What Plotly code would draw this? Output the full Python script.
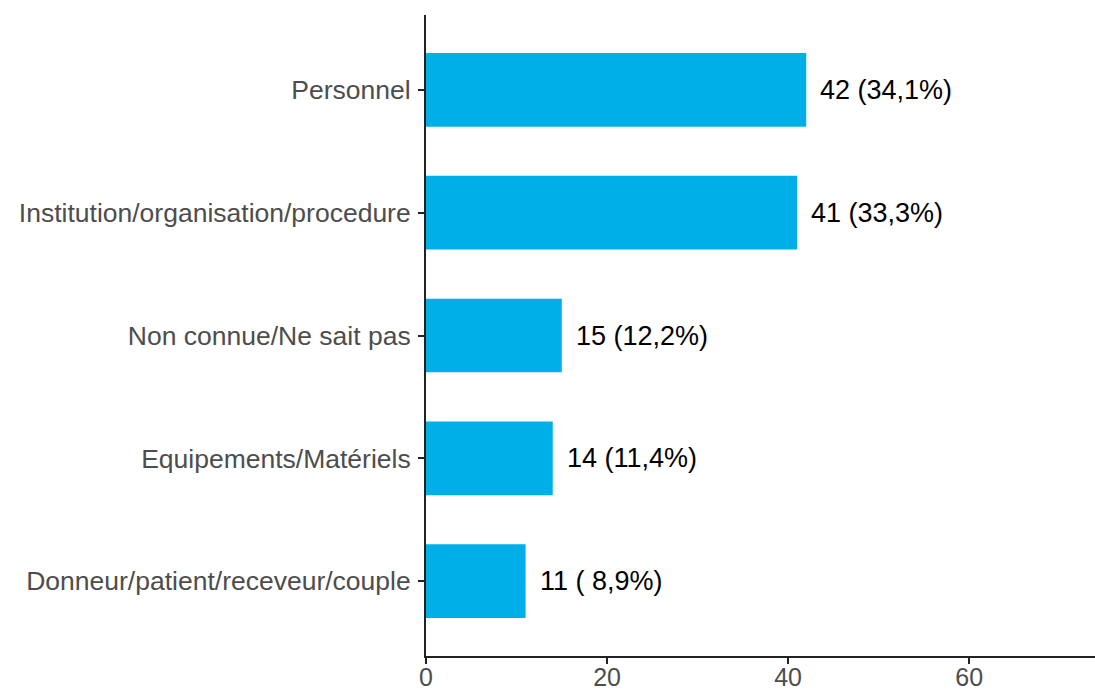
import plotly.graph_objects as go

categories = ["Personnel", "Institution/organisation/procedure", "Non connue/Ne sait pas",
              "Equipements/Matériels", "Donneur/patient/receveur/couple"]
counts = [42, 41, 15, 14, 11]
labels = ["42 (34,1%)", "41 (33,3%)", "15 (12,2%)", "14 (11,4%)", "11 ( 8,9%)"]
x_ticks = [0, 20, 40, 60]

FONT = "Liberation Sans, Arial, sans-serif"

fig = go.Figure()
fig.add_trace(go.Bar(
    y=categories, x=counts, orientation="h", width=0.6,
    marker=dict(color="#00AFE8", line=dict(width=0)),
    hoverinfo="skip",
))

for c, v, t in zip(categories, counts, labels):
    fig.add_annotation(x=v, y=c, text=t, showarrow=False, xanchor="left",
                       xshift=12, font=dict(family=FONT, size=27, color="#000000"))

fig.update_layout(
    width=1095, height=693,
    margin=dict(l=426, r=0, t=15, b=37),
    plot_bgcolor="white", paper_bgcolor="white",
    showlegend=False,
    font=dict(family=FONT, size=26, color="#4D4D4D"),
)
fig.update_xaxes(
    range=[0, 73.9], tickvals=x_ticks, showgrid=False, zeroline=False,
    showline=True, linecolor="#222222", linewidth=2,
    ticks="outside", ticklen=6, tickwidth=2, tickcolor="#222222",
    tickfont=dict(family=FONT, size=25, color="#4D4D4D"),
    ticklabelstandoff=-8, automargin=False,
)
fig.update_yaxes(
    categoryorder="array", categoryarray=categories[::-1],
    range=[-0.61, 4.61], showgrid=False, zeroline=False,
    showline=True, linecolor="#222222", linewidth=2,
    ticks="outside", ticklen=6, tickwidth=2, tickcolor="#222222",
    tickfont=dict(family=FONT, size=26.5, color="#4D4D4D"),
    ticklabelstandoff=2, automargin=False,
)

fig.write_html("out.html", config={"displayModeBar": False},
               post_script="document.body.style.margin='0';document.body.style.overflow='hidden';")
